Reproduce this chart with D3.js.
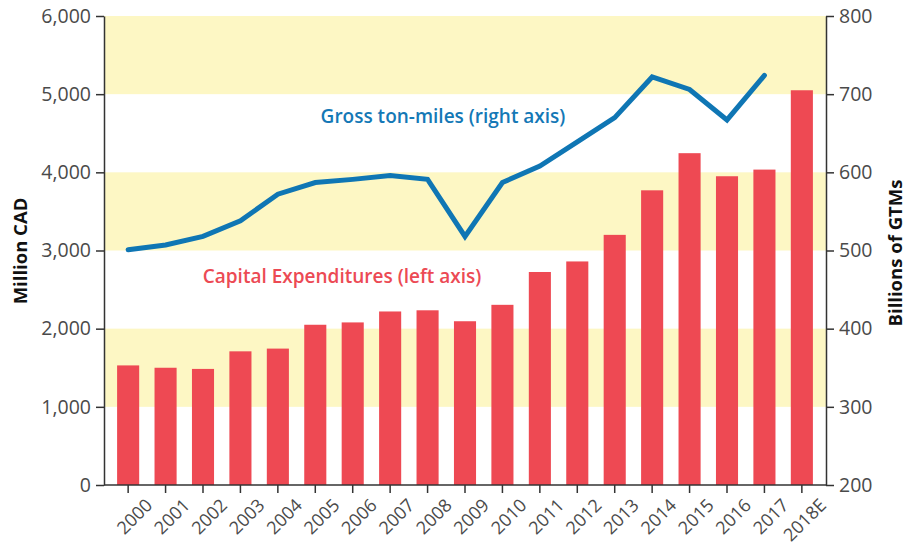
<!DOCTYPE html>
<html><head><meta charset="utf-8">
<script src="https://cdn.jsdelivr.net/npm/d3@7"></script>
<style>body{margin:0;background:#fff}svg{display:block}</style>
</head><body><svg id="c" width="906" height="546"></svg>
<script>
const years = ["2000","2001","2002","2003","2004","2005","2006","2007","2008","2009","2010","2011","2012","2013","2014","2015","2016","2017","2018E"];
const capex = [1530,1500,1485,1710,1745,2050,2080,2220,2235,2095,2305,2725,2860,3200,3770,4245,3950,4035,5050];
const gtmYears = years.slice(0,18);
const gtm = [501,507,518,538,572,587,591,596,591,518,587,608,639,670,722,706,667,724];
const leftTicks = [0,1000,2000,3000,4000,5000,6000];
const rightTicks = [200,300,400,500,600,700,800];
const bandRanges = [[1000,2000],[3000,4000],[5000,6000]];

const svg = d3.select("#c");
const L=104, R=826, T=16, B=485;
const x = d3.scaleBand().domain(years).range([L,R]).paddingInner(0.41).paddingOuter(0.35);
const yL = d3.scaleLinear().domain([0,6000]).range([B,T]);
const yR = d3.scaleLinear().domain([200,800]).range([B,T]);
const font = "'Open Sans', sans-serif";

svg.selectAll("rect.band").data(bandRanges).join("rect")
  .attr("x",L).attr("width",R-L)
  .attr("y",d=>yL(d[1])).attr("height",d=>yL(d[0])-yL(d[1]))
  .attr("fill","#fdf7c4");

svg.selectAll("rect.bar").data(years).join("rect").attr("class","bar")
  .attr("x",d=>x(d)).attr("width",x.bandwidth())
  .attr("y",(d,i)=>yL(capex[i])).attr("height",(d,i)=>B-yL(capex[i]))
  .attr("fill","#ee4953");

const line = d3.line().x((d,i)=>x(gtmYears[i])+x.bandwidth()/2).y(d=>yR(d));
svg.append("path").datum(gtm).attr("d",line).attr("fill","none")
  .attr("stroke","#0f76b4").attr("stroke-width",5).attr("stroke-linejoin","miter").attr("stroke-linecap","round");

function styleAxis(g){
  g.selectAll("path,line").attr("stroke","#333").attr("stroke-width",1.5);
  g.selectAll("text").attr("font-family",font).attr("font-size",19.5).attr("fill","#4a4a4a");
}
const ga = svg.append("g").attr("transform",`translate(${L},0)`)
  .call(d3.axisLeft(yL).tickValues(leftTicks).tickFormat(d3.format(",")).tickSizeInner(8).tickSizeOuter(0).tickPadding(5));
styleAxis(ga);
const gr = svg.append("g").attr("transform",`translate(${R},0)`)
  .call(d3.axisRight(yR).tickValues(rightTicks).tickSizeInner(8).tickSizeOuter(0).tickPadding(5));
styleAxis(gr);
const gb = svg.append("g").attr("transform",`translate(0,${B})`)
  .call(d3.axisBottom(x).tickSizeInner(8).tickSizeOuter(0).tickPadding(4));
styleAxis(gb);
gb.select("path.domain").attr("d",`M${L},0H${R}`);
gb.selectAll("text").attr("font-size",18).attr("text-anchor","end")
  .attr("transform","translate(8,4) rotate(-45)").attr("dy","0.7em");

svg.append("text").attr("transform","translate(27,251) rotate(-90)")
  .attr("text-anchor","middle").attr("font-family",font).attr("font-weight","bold")
  .attr("font-size",18.5).attr("fill","#111").text("Million CAD");
svg.append("text").attr("transform","translate(902,253) rotate(-90)")
  .attr("text-anchor","middle").attr("font-family",font).attr("font-weight","bold")
  .attr("font-size",18.5).attr("fill","#111").text("Billions of GTMs");

svg.append("text").attr("x",443).attr("y",123).attr("text-anchor","middle")
  .attr("font-family",font).attr("font-weight",600).attr("font-size",19).attr("fill","#1478b6")
  .text("Gross ton-miles (right axis)");
svg.append("text").attr("x",342).attr("y",283).attr("text-anchor","middle")
  .attr("font-family",font).attr("font-weight",600).attr("font-size",19).attr("fill","#ec4a54")
  .text("Capital Expenditures (left axis)");
</script></body></html>
